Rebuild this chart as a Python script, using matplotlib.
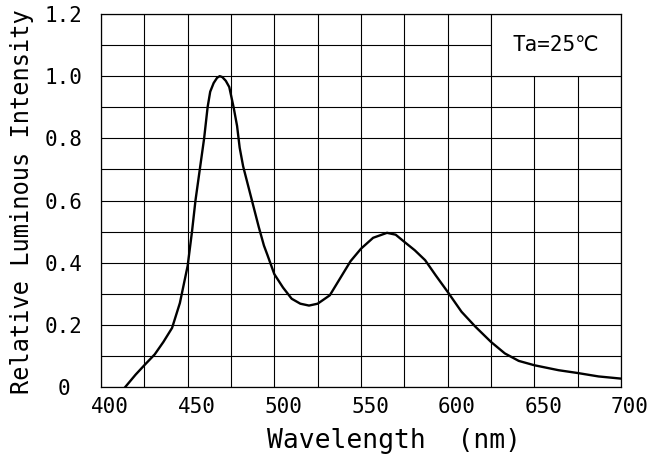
import numpy as np
import matplotlib
matplotlib.use("Agg")
import matplotlib.pyplot as plt
import matplotlib.transforms as mtransforms
from matplotlib.patches import Rectangle

# spectrum
wavelength = [414, 420, 425, 431, 436, 441, 445.5, 450, 452.5, 454.5, 457, 459.5,
              461.5, 463, 465, 467, 468.5, 470, 472, 474, 476.5, 478.5, 480, 482, 485,
              488, 491, 494, 496, 500, 505, 510, 515, 520, 525, 532, 538, 544, 550,
              557, 565, 570, 575, 581, 587, 593, 600, 608, 616, 625, 633, 641, 650,
              664, 675, 687, 700]
intensity = [0.0, 0.04, 0.07, 0.105, 0.145, 0.19, 0.27, 0.39, 0.50, 0.60, 0.70, 0.80,
             0.90, 0.95, 0.978, 0.995, 1.0, 0.997, 0.985, 0.965, 0.90, 0.84, 0.77,
             0.71, 0.645, 0.58, 0.515, 0.455, 0.425, 0.363, 0.32, 0.284, 0.268, 0.262,
             0.268, 0.295, 0.35, 0.405, 0.445, 0.48, 0.496, 0.49, 0.467, 0.44, 0.408,
             0.36, 0.306, 0.242, 0.194, 0.145, 0.108, 0.084, 0.07, 0.054, 0.045,
             0.034, 0.027]

xticks = [400, 450, 500, 550, 600, 650, 700]
yticks = [0, 0.2, 0.4, 0.6, 0.8, 1.0, 1.2]
ytick_labels = ["0", "0.2", "0.4", "0.6", "0.8", "1.0", "1.2"]
note = "Ta=25\u2103"

mono = ["DejaVu Sans Mono", "DejaVu Sans"]
plt.rcParams['font.family'] = mono

fig = plt.figure(figsize=(6.52, 4.55), dpi=100)
ax = fig.add_axes([101 / 652, 68 / 455, 520 / 652, 373 / 455])

ax.set_xlim(400, 700)
ax.set_ylim(0, 1.2)
ax.set_xticks(xticks)
ax.set_xticks(np.arange(400, 701, 25), minor=True)
ax.set_yticks(yticks)
ax.set_yticklabels(ytick_labels)
ax.set_yticks(np.arange(0, 1.21, 0.1), minor=True)

ax.set_axisbelow(True)
ax.grid(which='both', color='black', linewidth=0.8)
ax.tick_params(which='both', length=0)
ax.tick_params(axis='x', pad=7, labelsize=15)
ax.tick_params(axis='y', pad=27, labelsize=15)
for lab in ax.get_yticklabels():
    lab.set_horizontalalignment('center')
offset = mtransforms.ScaledTranslation(9 / 100, 0, fig.dpi_scale_trans)
for lab in ax.get_xticklabels():
    lab.set_transform(lab.get_transform() + offset)

for sp in ax.spines.values():
    sp.set_linewidth(0.9)

# condition box in the top right corner hides the grid
ax.add_patch(Rectangle((625, 1.0), 75, 0.2, facecolor='white', edgecolor='black',
                       linewidth=0.8, zorder=1.5))
ax.text(662.5, 1.1, note, ha='center', va='center', fontsize=15, zorder=3)

ax.plot(wavelength, intensity, color='black', linewidth=1.7, zorder=2.5)

fig.text(22 / 652, 1 - 202 / 455, "Relative Luminous Intensity", rotation=90,
         ha='center', va='center', fontsize=17)
fig.text(394 / 652, 1 - 448 / 455, "Wavelength  (nm)", ha='center', va='baseline',
         fontsize=19)

fig.savefig("out.png", dpi=100)
